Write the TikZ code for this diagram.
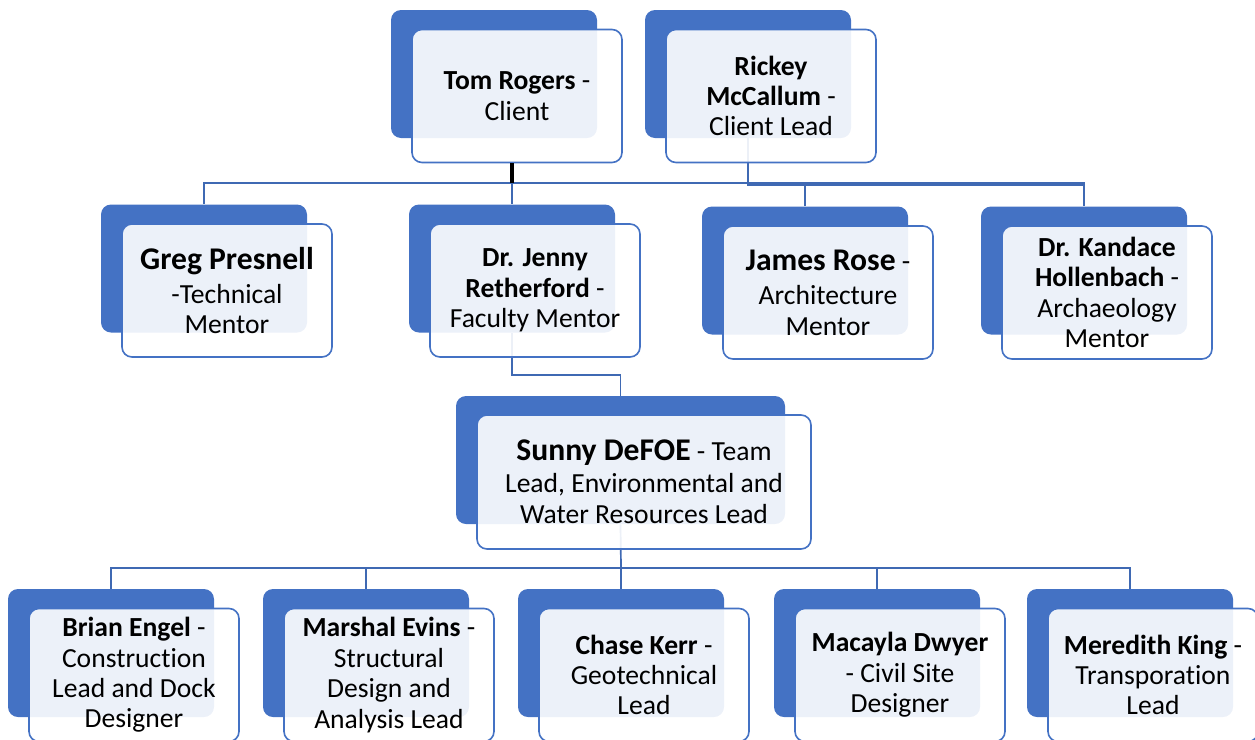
\documentclass[tikz,border=0pt]{standalone}
\usepackage{fontspec}
\setmainfont[Ligatures=NoCommon]{Carlito}
\definecolor{accent}{HTML}{4472C4}
\definecolor{linkblue}{HTML}{3F69B3}
\tikzset{
  tab/.style={fill=accent, draw=none, rounded corners=5pt, minimum width=103pt, minimum height=64pt, inner sep=0pt},
  card/.style={fill=white, fill opacity=0.9, text opacity=1, draw=accent, line width=0.8pt, rounded corners=5pt,
               minimum width=105pt, minimum height=66.5pt, inner sep=0pt, align=center, font=\fontsize{13.8}{15.2}\selectfont},
  widetab/.style={tab, minimum width=164.5pt},
  widecard/.style={card, minimum width=167pt, minimum height=67pt, font=\fontsize{13.8}{15.75}\selectfont},
  link/.style={draw=linkblue, line width=0.85pt},
  tick/.style={draw=black, line width=1.6pt},
  fwd/.style={shift={(23,22)}},
}
\newcommand{\bigname}[1]{{\fontsize{15.8}{16}\selectfont\bfseries #1}}

\begin{document}
\begin{tikzpicture}[x=0.5pt, y=-0.5pt]
  \useasboundingbox (0,0) rectangle (1255,740);
  \clip (0,0) rectangle (1255,740);

  % back tabs
  \node[tab] (tomB) at (494,74) {};
  \node[tab] (rickB) at (748,74) {};
  \node[tab] (gregB) at (204,268.5) {};
  \node[tab] (jennyB) at (512,268.5) {};
  \node[tab] (jamesB) at (805,270.5) {};
  \node[tab] (kandB) at (1084,270.5) {};
  \node[widetab] (sunnyB) at (620.5,460) {};
  \node[tab] (brianB) at (111,653) {};
  \node[tab] (marshB) at (366,653) {};
  \node[tab] (chaseB) at (621,653) {};
  \node[tab] (macB) at (877,653) {};
  \node[tab] (meredB) at (1130,653) {};

  % connectors
  \coordinate (bus1) at (512,183);
  \coordinate (bus2) at (748,185);
  \coordinate (mid) at (512,375);
  \coordinate (bus3) at (621,568);
  \draw[link] (gregB.north) |- (bus1) -| (kandB.north);
  \draw[link] (bus1) -- (jennyB.north);
  \draw[link] (jamesB.north) |- (bus1);
  \draw[link] (rickB.south) -- (bus2) -| (kandB.north);
  \draw[link] (jennyB.south) -- (mid) -| (sunnyB.north);
  \draw[link] (sunnyB.south) -- (bus3);
  \draw[link] (brianB.north) |- (bus3) -| (meredB.north);
  \draw[link] (marshB.north) |- (bus3);
  \draw[link] (macB.north) |- (bus3);
  \draw[link] (chaseB.north) -- (bus3);

  % front cards
  \node[card] (tom) at ([fwd]tomB.center) {\textbf{Tom Rogers} -\\Client};
  \node[card] (rick) at ([fwd]rickB.center) {\textbf{Rickey}\\\textbf{McCallum} -\\Client Lead};
  \node[card] (greg) at ([fwd]gregB.center) {\bigname{Greg Presnell}\\[2pt]-Technical\\Mentor};
  \node[card] (jenny) at ([fwd]jennyB.center) {\textbf{Dr. Jenny}\\\textbf{Retherford} -\\Faculty Mentor};
  \node[card] (james) at ([fwd]jamesB.center) {\bigname{James Rose} -\\[2pt]Architecture\\Mentor};
  \node[card] (kand) at ([fwd]kandB.center) {\textbf{Dr. Kandace}\\\textbf{Hollenbach} -\\Archaeology\\Mentor};
  \node[widecard] (sunny) at ([shift={(23.5,22)}]sunnyB.center) {\bigname{Sunny DeFOE} - Team\\Lead, Environmental and\\Water Resources Lead};
  \node[card] (brian) at ([fwd]brianB.center) {\textbf{Brian Engel} -\\Construction\\Lead and Dock\\Designer};
  \node[card] (marsh) at ([fwd]marshB.center) {\textbf{Marshal Evins} -\\Structural\\Design and\\Analysis Lead};
  \node[card] (chase) at ([fwd]chaseB.center) {\textbf{Chase Kerr} -\\Geotechnical\\Lead};
  \node[card] (mac) at ([fwd]macB.center) {\textbf{Macayla Dwyer}\\- Civil Site\\Designer};
  \node[card] (mered) at ([fwd]meredB.center) {\textbf{Meredith King} -\\Transporation\\Lead};

  \draw[tick] (tom.south -| bus1) -- (bus1);
\end{tikzpicture}
\end{document}
